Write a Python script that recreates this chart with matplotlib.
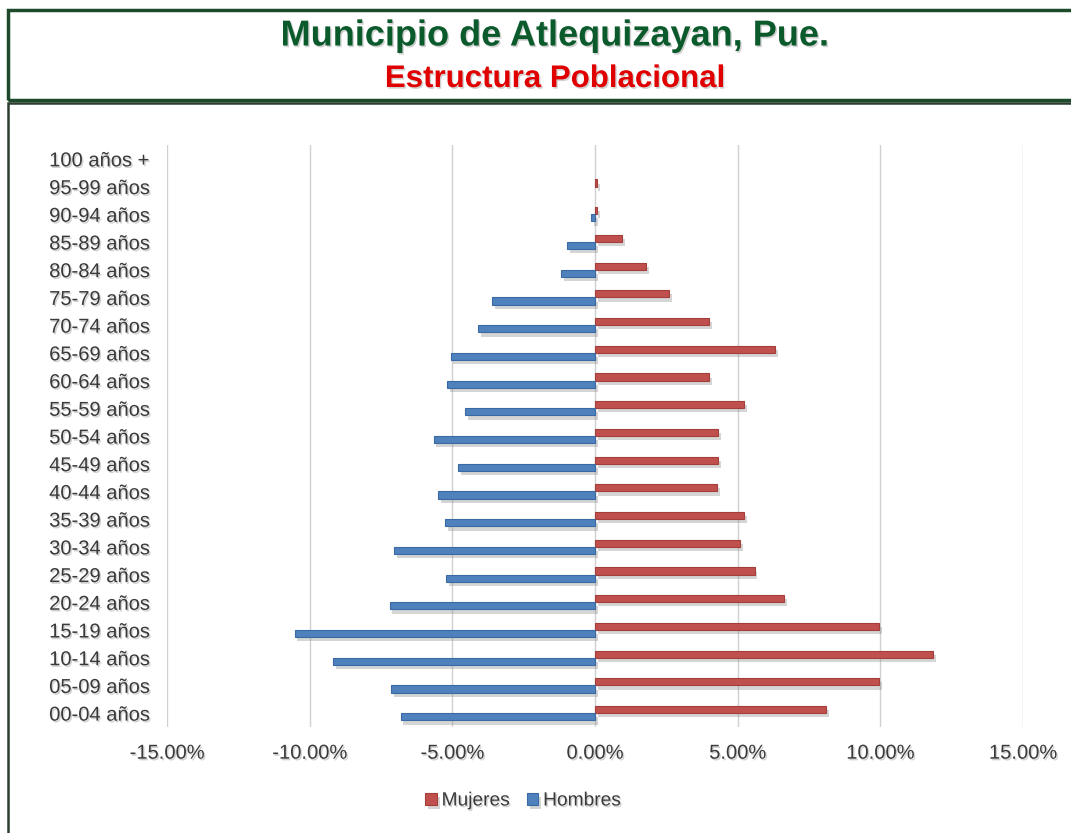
import matplotlib
matplotlib.use("Agg")
import matplotlib.pyplot as plt
from matplotlib.patches import Rectangle
import matplotlib.patheffects as pe
import numpy as np

categories = ["00-04 años", "05-09 años", "10-14 años", "15-19 años", "20-24 años",
              "25-29 años", "30-34 años", "35-39 años", "40-44 años", "45-49 años",
              "50-54 años", "55-59 años", "60-64 años", "65-69 años", "70-74 años",
              "75-79 años", "80-84 años", "85-89 años", "90-94 años", "95-99 años",
              "100 años +"]
mujeres = [8.09, 9.97, 11.84, 9.97, 6.63, 5.59, 5.08, 5.23, 4.27, 4.32,
           4.32, 5.23, 4.00, 6.32, 4.00, 2.60, 1.79, 0.94, 0.07, 0.07, 0.0]
hombres = [-6.81, -7.14, -9.19, -10.53, -7.20, -5.22, -7.05, -5.24, -5.51, -4.81,
           -5.66, -4.54, -5.17, -5.06, -4.09, -3.60, -1.19, -0.98, -0.13, 0.0, 0.0]
xticks = [-15, -10, -5, 0, 5, 10, 15]

plt.rcParams['font.family'] = ['Liberation Sans', 'DejaVu Sans']

fig = plt.figure(figsize=(10.71, 8.33), dpi=100)
fig.patch.set_facecolor('white')

# frames
fig.patches.append(Rectangle((8/1071, 1-100/833), 1.2, 90/833, transform=fig.transFigure,
                             fill=False, edgecolor='#1d4a2a', linewidth=2.5, zorder=0))
fig.patches.append(Rectangle((8/1071, -0.05), 1.2, 0.05 + 1-103/833, transform=fig.transFigure,
                             fill=False, edgecolor='#2a3d2e', linewidth=1.8, zorder=0))

txt_shadow = [pe.withSimplePatchShadow(offset=(1, -1.2), shadow_rgbFace='#999999', alpha=0.45)]

fig.text(0.518, 1-36/833, "Municipio de Atlequizayan, Pue.", ha='center', va='center',
         fontsize=26, fontweight='bold', color='#0b5a2c', path_effects=txt_shadow)
fig.text(0.518, 1-79/833, "Estructura Poblacional", ha='center', va='center',
         fontsize=22.5, fontweight='bold', color='#e00000', path_effects=txt_shadow)

ax = fig.add_axes([167/1071, 1-727/833, (1023-167)/1071, (727-145)/833])
y = np.arange(len(categories))
h = 0.26
shadow = [pe.SimplePatchShadow(offset=(2, -3), shadow_rgbFace='#888888', alpha=0.35), pe.Normal()]
bm = ax.barh(y + h/2, mujeres, height=h, color='#c0504d', edgecolor='#a33e3b', linewidth=0.8,
             label='Mujeres', zorder=3)
bh = ax.barh(y - h/2, hombres, height=h, color='#4f81bd', edgecolor='#3a6aa3', linewidth=0.8,
             label='Hombres', zorder=3)
for b in list(bm) + list(bh):
    if b.get_width() == 0:
        b.set_visible(False)
    b.set_path_effects(shadow)

ax.set_xlim(-15, 15)
ax.set_ylim(-0.5, len(categories) - 0.5)
ax.set_xticks(xticks)
ax.set_xticklabels([f"{v:.2f}%" for v in xticks])
ax.set_yticks(y)
ax.set_yticklabels(categories)
ax.grid(axis='x', color='#d0d0d0', linewidth=1, zorder=0)
ax.set_axisbelow(True)
for s in ax.spines.values():
    s.set_visible(False)
ax.tick_params(axis='both', length=0, labelsize=14.5, labelcolor='#3a3a3a')
ax.tick_params(axis='x', pad=12)
for lab in ax.get_xticklabels():
    lab.set_path_effects(txt_shadow)
for lab in ax.get_yticklabels():
    lab.set_horizontalalignment('left')
    lab.set_x(-(167 - 54) / (1023 - 167))
    lab.set_path_effects(txt_shadow)

leg = fig.legend(handles=[bm, bh], labels=['Mujeres', 'Hombres'], loc='center',
                 bbox_to_anchor=(523/1071, 1-801/833), ncol=2, frameon=False,
                 fontsize=13.8, handlelength=0.6, handleheight=0.6, handletextpad=0.25,
                 columnspacing=0.9, labelcolor='#3a3a3a')
for t in leg.get_texts():
    t.set_path_effects(txt_shadow)

fig.savefig("out.png", dpi=100)
